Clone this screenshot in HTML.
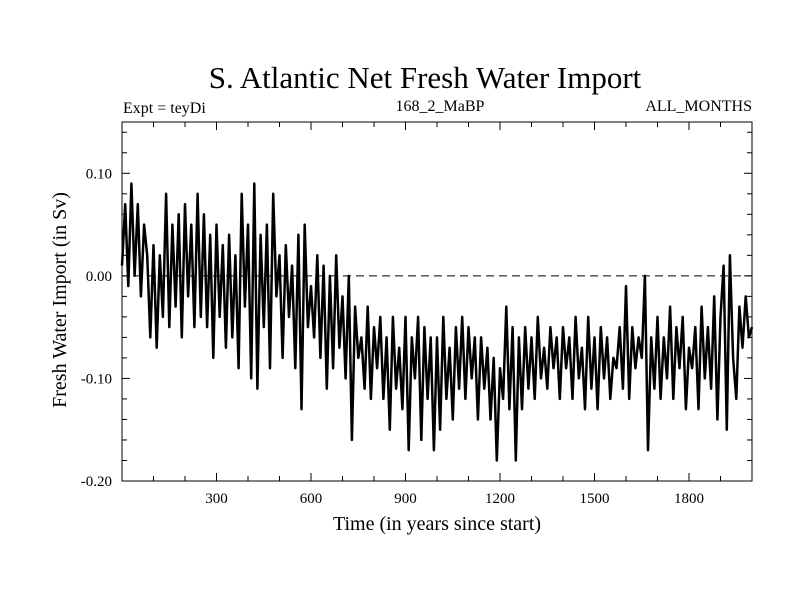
<!DOCTYPE html>
<html><head><meta charset="utf-8"><style>
html,body{margin:0;padding:0;background:#fff;}
svg{display:block;font-family:"Liberation Serif",serif;}
</style></head><body>
<svg id="chart" width="800" height="600">
<text x="425" y="88" font-size="31" text-anchor="middle">S. Atlantic Net Fresh Water Import</text>
<text x="123" y="113" font-size="16">Expt = teyDi</text>
<text x="440" y="111" font-size="16" text-anchor="middle">168_2_MaBP</text>
<text x="752" y="111" font-size="16" text-anchor="end">ALL_MONTHS</text>
<text x="437" y="530" font-size="20" text-anchor="middle">Time (in years since start)</text>
<text transform="translate(66,300) rotate(-90)" font-size="20" text-anchor="middle">Fresh Water Import (in Sv)</text>
<g id="axes"></g>
<g id="series"></g>
</svg>
<script>
const xTicks=[300,600,900,1200,1500,1800];
const yTicks=[0.10,0.00,-0.10,-0.20];
const yTickLabels=["0.10","0.00","-0.10","-0.20"];
const years=[];for(let i=0;i<=200;i++)years.push(i*10);
const values=[
0.01,0.07,-0.01,0.09,0.0,0.07,-0.02,0.05,0.02,-0.06,
0.03,-0.07,0.02,-0.04,0.08,-0.05,0.05,-0.03,0.06,-0.06,
0.07,-0.02,0.05,-0.05,0.08,-0.04,0.06,-0.05,0.04,-0.08,
0.05,-0.04,0.03,-0.07,0.04,-0.06,0.02,-0.09,0.08,-0.03,
0.05,-0.10,0.09,-0.11,0.04,-0.05,0.05,-0.09,0.08,-0.02,
0.02,-0.08,0.03,-0.04,0.01,-0.09,0.04,-0.13,0.05,-0.05,
-0.01,-0.06,0.02,-0.08,0.01,-0.11,0.0,-0.09,0.02,-0.07,
-0.02,-0.10,0.0,-0.16,-0.03,-0.08,-0.06,-0.11,-0.03,-0.12,
-0.05,-0.09,-0.04,-0.12,-0.06,-0.15,-0.04,-0.11,-0.07,-0.13,
-0.04,-0.17,-0.06,-0.10,-0.04,-0.16,-0.05,-0.12,-0.06,-0.17,
-0.06,-0.15,-0.04,-0.12,-0.07,-0.14,-0.05,-0.11,-0.04,-0.12,
-0.05,-0.10,-0.06,-0.14,-0.06,-0.11,-0.07,-0.14,-0.08,-0.18,
-0.09,-0.12,-0.03,-0.13,-0.05,-0.18,-0.06,-0.13,-0.05,-0.11,
-0.06,-0.12,-0.04,-0.10,-0.07,-0.11,-0.05,-0.09,-0.06,-0.12,
-0.05,-0.09,-0.06,-0.12,-0.04,-0.10,-0.07,-0.13,-0.04,-0.11,
-0.06,-0.13,-0.05,-0.10,-0.06,-0.12,-0.08,-0.09,-0.05,-0.11,
-0.01,-0.12,-0.05,-0.09,-0.06,-0.08,0.0,-0.17,-0.06,-0.11,
-0.04,-0.12,-0.06,-0.10,-0.03,-0.12,-0.05,-0.09,-0.04,-0.13,
-0.07,-0.09,-0.05,-0.13,-0.03,-0.10,-0.05,-0.11,-0.02,-0.14,
-0.04,0.01,-0.15,0.02,-0.08,-0.12,-0.03,-0.07,-0.02,-0.06,-0.05];
const L=122,R=752,T=122,B=481,X0=0,X1=2000,Y0=-0.2,Y1=0.15;
const sx=v=>L+(v-X0)/(X1-X0)*(R-L);
const sy=v=>B-(v-Y0)/(Y1-Y0)*(B-T);
const NS="http://www.w3.org/2000/svg";
function mk(tag,attrs,parent){const e=document.createElementNS(NS,tag);for(const k in attrs)e.setAttribute(k,attrs[k]);parent.appendChild(e);return e;}
const axes=document.getElementById('axes');
const frame=mk('rect',{x:L,y:T,width:R-L,height:B-T,fill:'none',stroke:'#000','stroke-width':1},axes);


for(let v=100;v<2000;v+=100){
 const big=v%300===0, len=big?8:5;
 const t1=mk('line',{x1:sx(v),x2:sx(v),y1:B,y2:B-len,stroke:'#000'},axes);
 
 
 const t2=mk('line',{x1:sx(v),x2:sx(v),y1:T,y2:T+len,stroke:'#000'},axes);
 
 
}
xTicks.forEach(v=>{
 const t=mk('text',{x:sx(v),y:503,'font-size':15,'text-anchor':'middle'},axes);t.textContent=v;
 
 
});
for(let i=-10;i<=7;i++){
 const v=i*0.02; const big=(i%5===0), len=big?8:5;
 const t1=mk('line',{x1:L,x2:L+len,y1:sy(v),y2:sy(v),stroke:'#000'},axes);
 
 
 const t2=mk('line',{x1:R,x2:R-len,y1:sy(v),y2:sy(v),stroke:'#000'},axes);
 
 
}
yTicks.forEach((v,i)=>{
 const t=mk('text',{x:112,y:sy(v)+5,'font-size':15,'text-anchor':'end'},axes);t.textContent=yTickLabels[i];
 
 
});
const zl=mk('line',{x1:L,x2:R,y1:sy(0),y2:sy(0),stroke:'#000','stroke-dasharray':'8,5'},axes);


const series=document.getElementById('series');
const p=mk('polyline',{points:values.map((v,i)=>sx(years[i]).toFixed(1)+','+sy(v).toFixed(1)).join(' '),fill:'none',stroke:'#000','stroke-width':2.5,'stroke-linejoin':'round'},series);


</script>
</body></html>
